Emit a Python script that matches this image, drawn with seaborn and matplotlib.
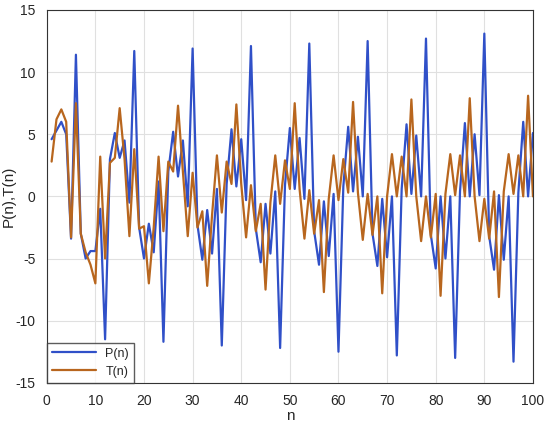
import matplotlib
matplotlib.use("Agg")
import matplotlib.pyplot as plt
import pandas as pd
import seaborn as sns

n = list(range(1, 101))
p_vals = [4.6, 5.3, 6.0, 5.0, -3.4, 11.4, -3.0, -5.0, -4.4, -4.4, -1.0, -11.5,
          3.0, 5.1, 3.1, 4.5, -0.5, 11.7, -2.5, -5.0, -2.2, -4.5, 1.2, -11.7,
          2.0, 5.2, 1.6, 4.5, -0.8, 11.9, -2.3, -5.1, -1.1, -4.6, 0.6, -12.0,
          1.0, 5.4, 0.8, 4.6, -0.3, 12.1, -2.6, -5.3, -0.6, -4.6, 0.4, -12.2,
          0.9, 5.5, 0.6, 4.7, -0.2, 12.3, -2.8, -5.5, -0.4, -4.8, 0.2, -12.5,
          0.8, 5.6, 0.4, 4.8, 0.0, 12.5, -3.0, -5.6, -0.2, -4.9, 0.0, -12.8,
          0.6, 5.8, 0.2, 4.9, 0.0, 12.7, -3.1, -5.8, 0.0, -5.0, 0.0, -13.0,
          0.4, 5.9, 0.0, 5.0, 0.1, 13.1, -3.2, -5.9, 0.1, -5.1, 0.0, -13.3,
          0.3, 6.0, 0.0, 5.1]
t_vals = [2.8, 6.2, 7.0, 6.0, -3.3, 7.5, -3.0, -4.5, -5.5, -7.0, 3.2, -5.0,
          2.7, 3.1, 7.1, 3.0, -3.2, 3.8, -2.6, -2.4, -7.0, -2.5, 3.2, -2.8,
          2.8, 2.0, 7.3, 2.0, -3.2, 1.9, -2.5, -1.2, -7.2, -1.5, 3.3, -1.3,
          2.8, 1.0, 7.4, 1.0, -3.3, 0.9, -2.8, -0.6, -7.5, -0.5, 3.3, -0.6,
          2.9, 0.6, 7.5, 0.6, -3.4, 0.5, -3.0, -0.3, -7.7, -0.2, 3.3, -0.3,
          3.0, 0.3, 7.6, 0.3, -3.5, 0.2, -3.1, 0.0, -7.8, 0.0, 3.4, 0.0,
          3.2, 0.0, 7.8, 0.0, -3.6, 0.0, -3.3, 0.2, -8.0, 0.2, 3.4, 0.1,
          3.3, 0.0, 7.9, 0.0, -3.6, -0.2, -3.4, 0.4, -8.1, 0.4, 3.4, 0.2,
          3.3, 0.0, 8.1, 0.0]

df = pd.DataFrame({"n": n * 2, "value": p_vals + t_vals,
                   "series": ["P(n)"] * 100 + ["T(n)"] * 100})

sns.set_theme(style="whitegrid")
plt.rcParams["font.family"] = ["Arial", "Liberation Sans", "DejaVu Sans"]
plt.rcParams["axes.unicode_minus"] = False

fig = plt.figure(figsize=(5.5, 4.34), dpi=100)
ax = fig.add_axes([0.085, 0.118, 0.884, 0.859])
sns.lineplot(data=df, x="n", y="value", hue="series",
             palette={"P(n)": "#3050c8", "T(n)": "#b8661e"},
             linewidth=1.6, ax=ax)
ax.set_xlim(0, 100)
ax.set_ylim(-15, 15)
ax.set_xticks(range(0, 101, 10))
ax.set_yticks(range(-15, 16, 5))
ax.set_xlabel("n", fontsize=11, labelpad=1)
ax.set_ylabel("P(n),T(n)", fontsize=11, labelpad=0)
ax.tick_params(labelsize=10, pad=2)
ax.grid(color="#e0e0e0", linewidth=0.8)
for s in ax.spines.values():
    s.set_color("#333333")
    s.set_linewidth(0.8)
leg = ax.legend(loc="lower left", fontsize=9, frameon=True, fancybox=False,
                borderaxespad=0, handlelength=3.5)
leg.get_frame().set_edgecolor("#333333")
fig.savefig("out.png", dpi=100)
